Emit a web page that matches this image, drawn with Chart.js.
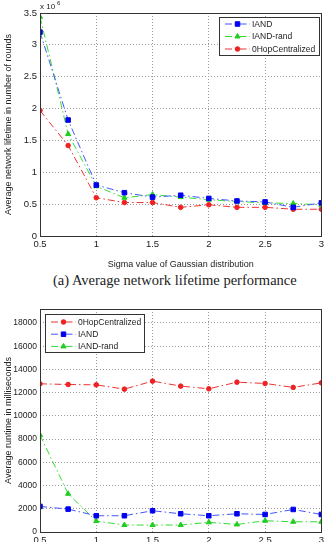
<!DOCTYPE html>
<html>
<head>
<meta charset="utf-8">
<script src="https://cdn.jsdelivr.net/npm/chart.js@4.4.1/dist/chart.umd.min.js"></script>
<style>
  html, body { margin: 0; padding: 0; background: #fff; overflow: hidden; }
  #wrap { position: relative; width: 327px; height: 542px; }
  .box { position: absolute; left: 0; width: 327px; }
  #top { top: 0; height: 270px; }
  #bottom { top: 295px; height: 270px; }
  #caption {
    position: absolute; top: 270px; left: 53px; width: 260px;
    font-family: "Liberation Serif", "DejaVu Serif", serif; font-size: 14.5px;
    color: #222; white-space: nowrap; line-height: 20px;
  }
</style>
</head>
<body>
<div id="wrap">
  <div class="box" id="top"><canvas id="lifetimeChart"></canvas></div>
  <div id="caption">(a) Average network lifetime performance</div>
  <div class="box" id="bottom"><canvas id="runtimeChart"></canvas></div>
</div>
<script>
// sigma values (x axis)
const sigma = [0.5, 0.75, 1, 1.25, 1.5, 1.75, 2, 2.25, 2.5, 2.75, 3];
const xTicks = [0.5, 1, 1.5, 2, 2.5, 3];

// (a) lifetime, in units of 10^6 rounds
const lifeIAND     = [3.2, 1.82, 0.8, 0.68, 0.61, 0.64, 0.59, 0.55, 0.535, 0.45, 0.52];
const lifeIANDrand = [3.44, 1.6, 0.78, 0.6, 0.65, 0.61, 0.57, 0.54, 0.52, 0.51, 0.49];
const lifeOHop     = [1.97, 1.42, 0.6, 0.525, 0.525, 0.45, 0.49, 0.45, 0.45, 0.42, 0.42];
const lifeTicks = [0, 0.5, 1, 1.5, 2, 2.5, 3, 3.5];

// (b) runtime in milliseconds
const runOHop     = [12760, 12700, 12670, 12300, 12990, 12560, 12330, 12900, 12790, 12450, 12840];
const runIAND     = [2200, 1970, 1400, 1400, 1830, 1570, 1400, 1570, 1510, 1940, 1510];
const runIANDrand = [8350, 3290, 940, 600, 600, 600, 830, 650, 970, 880, 880];
const runTicks = [0, 2000, 4000, 6000, 8000, 10000, 12000, 14000, 16000, 18000];

const FONT = '"Liberation Sans", Arial, sans-serif';
const TXT = '#222';
const DASHDOT = [7, 3, 1.5, 3];

const styles = {
  'IAND': { borderColor: '#4455ff', backgroundColor: '#0000ee', pointBorderColor: '#0000ee', pointStyle: 'rect', pointRadius: 3.2, pointBorderWidth: 1 },
  'IAND-rand': { borderColor: '#33dd33', backgroundColor: '#22cc22', pointBorderColor: '#22cc22', pointStyle: 'triangle', pointRadius: 3, pointBorderWidth: 1 },
  '0HopCentralized': { borderColor: '#ee3333', backgroundColor: '#ee2222', pointBorderColor: '#ee2222', pointStyle: 'circle', pointRadius: 2.3, pointBorderWidth: 1 }
};

function series(label, values) {
  return Object.assign({
    label: label,
    data: sigma.map((x, i) => ({ x: x, y: values[i] })),
    borderWidth: 1,
    borderDash: DASHDOT,
    tension: 0,
    fill: false
  }, styles[label]);
}

// frame, in-plot legend and exponent label
const framePlugin = {
  id: 'frame',
  afterDraw(chart, args, opts) {
    const ctx = chart.ctx;
    const a = chart.chartArea;
    ctx.save();
    ctx.strokeStyle = '#333';
    ctx.lineWidth = 1;
    ctx.setLineDash([]);
    ctx.strokeRect(Math.round(a.left) + 0.5, Math.round(a.top) + 0.5, Math.round(a.width), Math.round(a.height));

    if (opts.exponent) {
      ctx.fillStyle = TXT;
      ctx.font = '8px ' + FONT;
      ctx.textBaseline = 'alphabetic';
      ctx.fillText('x 10', a.left, a.top - 4);
      ctx.font = '6px ' + FONT;
      ctx.fillText(opts.exponent, a.left + 17, a.top - 8);
    }

    const lg = opts.legend;
    if (lg) {
      ctx.fillStyle = '#fff';
      ctx.fillRect(lg.x, lg.y, lg.w, lg.h);
      ctx.strokeStyle = '#333';
      ctx.strokeRect(lg.x + 0.5, lg.y + 0.5, lg.w, lg.h);
      chart.data.datasets.forEach((ds, i) => {
        const y = lg.y + lg.first + i * lg.step;
        ctx.strokeStyle = ds.borderColor;
        ctx.lineWidth = 1;
        ctx.setLineDash(DASHDOT);
        ctx.beginPath();
        ctx.moveTo(lg.x + 6, y);
        ctx.lineTo(lg.x + 31, y);
        ctx.stroke();
        ctx.setLineDash([]);
        ctx.fillStyle = ds.backgroundColor;
        ctx.strokeStyle = ds.pointBorderColor;
        Chart.helpers.drawPoint(ctx, { pointStyle: ds.pointStyle, radius: ds.pointRadius, rotation: 0, borderWidth: ds.pointBorderWidth }, lg.x + 18.5, y);
        ctx.fillStyle = TXT;
        ctx.font = '8.5px ' + FONT;
        ctx.textBaseline = 'middle';
        ctx.fillText(ds.label, lg.x + 33, y + 0.5);
      });
    }
    ctx.restore();
  }
};

function axes(yMax, yTicks, yTitle, xHeight, yTickSize) {
  const grid = { color: '#9a9a9a', lineWidth: 1, drawTicks: false };
  const border = { display: false, dash: [1, 2] };
  return {
    x: {
      type: 'linear', min: 0.5, max: 3,
      grid: grid, border: border,
      afterBuildTicks: s => { s.ticks = xTicks.map(v => ({ value: v })); },
      afterFit: s => { s.height = xHeight; },
      ticks: { padding: 3, color: TXT, font: { family: FONT, size: 9.5 }, maxRotation: 0, callback: v => String(v) },
      title: { display: true, text: 'Sigma value of Gaussian distribution', color: TXT, font: { family: FONT, size: 9 }, padding: { top: 4, bottom: 0 } }
    },
    y: {
      type: 'linear', min: 0, max: yMax,
      grid: grid, border: border,
      afterBuildTicks: s => { s.ticks = yTicks.map(v => ({ value: v })); },
      afterFit: s => { s.width = 40; },
      ticks: { padding: 3, color: TXT, font: { family: FONT, size: yTickSize }, callback: v => String(v) },
      title: { display: true, text: yTitle, color: TXT, font: { family: FONT, size: 9 }, padding: { top: 3, bottom: 2 } }
    }
  };
}

function baseOptions(pad, scales, frame) {
  return {
    responsive: true,
    maintainAspectRatio: false,
    animation: false,
    layout: { padding: pad },
    plugins: { legend: { display: false }, tooltip: { enabled: false }, frame: frame },
    scales: scales
  };
}

new Chart(document.getElementById('lifetimeChart'), {
  type: 'line',
  data: {
    datasets: [
      series('IAND', lifeIAND),
      series('IAND-rand', lifeIANDrand),
      series('0HopCentralized', lifeOHop)
    ]
  },
  options: baseOptions(
    { top: 13, right: 5, left: 0, bottom: 0 },
    axes(3.5, lifeTicks, 'Average network lifetime in number of rounds', 34, 9.5),
    { exponent: '6', legend: { x: 219, y: 17, w: 100, h: 38, first: 7, step: 12.5 } }
  ),
  plugins: [framePlugin]
});

new Chart(document.getElementById('runtimeChart'), {
  type: 'line',
  data: {
    datasets: [
      series('0HopCentralized', runOHop),
      series('IAND', runIAND),
      series('IAND-rand', runIANDrand)
    ]
  },
  options: baseOptions(
    { top: 14, right: 5, left: 0, bottom: 0 },
    axes(19200, runTicks, 'Average runtime in milliseconds', 33, 8.5),
    { legend: { x: 45, y: 19, w: 99, h: 38, first: 8, step: 12.2 } }
  ),
  plugins: [framePlugin]
});
</script>
</body>
</html>
